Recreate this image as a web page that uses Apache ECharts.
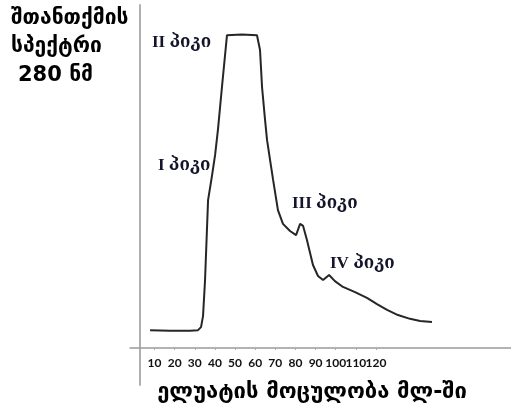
<!DOCTYPE html>
<html>
<head>
<meta charset="utf-8">
<script src="https://cdn.jsdelivr.net/npm/echarts@6/dist/echarts.min.js"></script>
<style>
  html, body { margin: 0; padding: 0; background: #fff; }
  #chart { width: 511px; height: 404px; }
</style>
</head>
<body>
<div id="chart"></div>
<script>
// elution volume (ml) and absorbance at 280 nm (arbitrary units)
const volume = [7.8, 17.7, 27.6, 31.6, 33.1, 34.1, 35.1, 36.6, 38.6, 40.1, 41.5, 43.5, 46.0,
  53.4, 60.9, 62.4, 63.4, 64.9, 65.9, 67.4, 68.9, 71.3, 73.8, 77.3, 80.3, 82.3, 83.8, 85.7,
  88.7, 91.2, 93.7, 96.7, 99.6, 103.6, 109.6, 115.5, 120.5, 125.5, 130.9, 136.9, 141.9, 147.8];
const absorbance = [5.2, 5.0, 5.0, 5.2, 6.1, 9.3, 19.8, 43.1, 50.4, 56.3, 63.6, 76.1, 91.2,
  91.4, 91.2, 86.9, 76.1, 66.5, 60.6, 54.8, 49.0, 40.2, 36.2, 34.1, 32.9, 36.2, 35.6, 31.5,
  24.2, 21.0, 19.8, 21.3, 19.5, 17.8, 16.3, 14.6, 12.8, 11.1, 9.6, 8.5, 7.9, 7.6];
const tickLabels = [10, 20, 30, 40, 50, 60, 70, 80, 90, 100, 110, 120];
const titleLines = ['შთანთქმის', 'სპექტრი', '280 ნმ'];
const peakNames = ['I პიკი', 'II პიკი', 'III პიკი', 'IV პიკი'];

const myChart = echarts.init(document.getElementById('chart'));

const serif = 'bold 17px "Liberation Serif", "DejaVu Serif", "DejaVu Sans", serif';
const sans = 'bold 21px "DejaVu Sans", "Noto Sans", sans-serif';

// pixel spots for the hand placed captions
const titlePos = [[11, 19], [11, 47], [18, 76]];
const peakPos = [[158, 166], [152, 43], [292, 204], [330, 264]];

const graphics = [];
titleLines.forEach((t, i) => {
  graphics.push({
    type: 'text', x: titlePos[i][0], y: titlePos[i][1],
    style: { text: t, font: sans, fill: '#000', verticalAlign: 'middle' }
  });
});
peakNames.forEach((t, i) => {
  graphics.push({
    type: 'text', x: peakPos[i][0], y: peakPos[i][1],
    style: { text: t, font: serif, fill: '#14142a', verticalAlign: 'middle' }
  });
});

// labels are split over two identical axes so echarts doesn't drop the crowded ones
const oddLabels = tickLabels.filter((v, i) => i % 2 === 0);
const evenLabels = tickLabels.filter((v, i) => i % 2 === 1);
const labelStyle = {
  hideOverlap: false,
  showMinLabel: true,
  showMaxLabel: true,
  fontFamily: 'Lato, "Open Sans", sans-serif',
  fontWeight: 'bold',
  fontSize: 12,
  color: '#111',
  margin: 9
};

const option = {
  backgroundColor: '#fff',
  animation: false,
  grid: [
    { left: 130, right: 0, top: 5, bottom: 56, outerBoundsMode: 'none' },
    // stub under the x axis, the vertical line runs on below it
    { left: 130, right: 0, top: 348, bottom: 19, outerBoundsMode: 'none' }
  ],
  xAxis: [{
    type: 'value',
    gridIndex: 0,
    position: 'bottom',
    min: -2.167,
    max: 187.04,
    name: 'ელუატის მოცულობა მლ-ში',
    nameLocation: 'middle',
    nameGap: 33,
    nameTextStyle: {
      fontFamily: '"DejaVu Sans", sans-serif', fontWeight: 'bold', fontSize: 22, color: '#000',
      padding: [0, 17, 0, 0]
    },
    axisLine: { onZero: false, lineStyle: { color: '#9a9a9a', width: 1.5 } },
    axisTick: { show: true, length: 2, customValues: tickLabels, lineStyle: { color: '#aaa' } },
    axisLabel: Object.assign({ customValues: oddLabels }, labelStyle),
    splitLine: { show: false }
  }, {
    type: 'value',
    gridIndex: 0,
    position: 'bottom',
    offset: 0,
    min: -2.167,
    max: 187.04,
    axisLine: { show: false, onZero: false },
    axisTick: { show: false },
    axisLabel: Object.assign({ customValues: evenLabels }, labelStyle),
    splitLine: { show: false }
  }, {
    type: 'value', gridIndex: 1, show: false, min: 0, max: 1
  }],
  yAxis: [{
    type: 'value',
    gridIndex: 0,
    min: 0,
    max: 100,
    offset: -10,
    axisLine: { show: true, onZero: false, lineStyle: { color: '#b0b0b0', width: 2 } },
    axisTick: { show: false },
    axisLabel: { show: false },
    splitLine: { show: false }
  }, {
    type: 'value',
    gridIndex: 1,
    min: 0,
    max: 1,
    offset: -10,
    axisLine: { show: true, onZero: false, lineStyle: { color: '#b0b0b0', width: 2 } },
    axisTick: { show: false },
    axisLabel: { show: false },
    splitLine: { show: false }
  }],
  series: [{
    type: 'line',
    xAxisIndex: 0,
    yAxisIndex: 0,
    data: volume.map((v, i) => [v, absorbance[i]]),
    showSymbol: false,
    lineStyle: { color: '#262626', width: 2 }
  }],
  graphic: graphics
};

option && myChart.setOption(option);
</script>
</body>
</html>
